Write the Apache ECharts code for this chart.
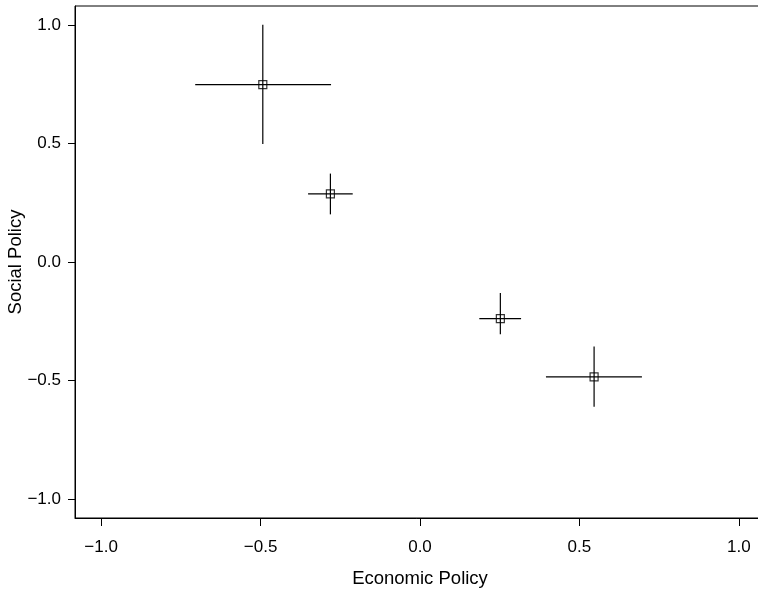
<!DOCTYPE html>
<html>
<head>
<meta charset="utf-8">
<script src="https://cdn.jsdelivr.net/npm/echarts@6/dist/echarts.min.js"></script>
<style>
  html, body { margin: 0; padding: 0; background: #fff; }
  #chart { width: 758px; height: 591px; }
</style>
</head>
<body>
<div id="chart"></div>
<script>
// point estimates with their ranges
let econ    = [-0.493, -0.281, 0.252, 0.546];
let econLo  = [-0.705, -0.351, 0.186, 0.395];
let econHi  = [-0.279, -0.211, 0.317, 0.696];
let social   = [0.748, 0.287, -0.239, -0.485];
let socialLo = [0.498, 0.201, -0.305, -0.611];
let socialHi = [1.001, 0.373, -0.131, -0.356];
let ticks = [-1.0, -0.5, 0.0, 0.5, 1.0];

let fmt = (v) => {
    let s = Math.abs(v).toFixed(1);
    return v < -1e-9 ? "\u2212" + s : s;
};

let barData = econ.map((x, i) => [x, social[i], econLo[i], econHi[i], socialLo[i], socialHi[i]]);
let pointData = econ.map((x, i) => [x, social[i]]);

let chart = echarts.init(document.getElementById('chart'));
let font = 'Liberation Sans, Arial, Helvetica, sans-serif';

let option = {
    animation: false,
    backgroundColor: '#fff',
    grid: {
        left: 75, top: 6, right: -7, bottom: 73,
        outerBoundsMode: 'none',
        containLabel: false,
        show: true, borderColor: '#000', borderWidth: 1, backgroundColor: 'transparent'
    },
    xAxis: {
        type: 'value',
        min: -1.082, max: 1.082,
        name: 'Economic Policy',
        nameLocation: 'middle',
        nameGap: 51,
        nameMoveOverlap: false,
        nameTextStyle: { fontFamily: font, fontSize: 18.5, color: '#000' },
        axisLine: { show: true, onZero: false, lineStyle: { color: '#000', width: 1 } },
        axisTick: { show: true, customValues: ticks, length: 8, lineStyle: { color: '#000' } },
        axisLabel: { customValues: ticks, formatter: fmt, margin: 21, fontFamily: font, fontSize: 17, color: '#000' },
        splitLine: { show: false }
    },
    yAxis: {
        type: 'value',
        min: -1.08, max: 1.08,
        name: 'Social Policy',
        nameLocation: 'middle',
        nameGap: 50,
        nameMoveOverlap: false,
        nameTextStyle: { fontFamily: font, fontSize: 18.5, color: '#000' },
        axisLine: { show: true, onZero: false, lineStyle: { color: '#000', width: 1 } },
        axisTick: { show: true, customValues: ticks, length: 7, lineStyle: { color: '#000' } },
        axisLabel: { customValues: ticks, formatter: fmt, margin: 14, fontFamily: font, fontSize: 17, color: '#000' },
        splitLine: { show: false }
    },
    series: [
        {
            type: 'custom',
            data: barData,
            z: 2,
            renderItem: (params, api) => {
                let y = api.value(1), x = api.value(0);
                let l = api.coord([api.value(2), y]);
                let r = api.coord([api.value(3), y]);
                let b = api.coord([x, api.value(4)]);
                let t = api.coord([x, api.value(5)]);
                let st = { stroke: '#000', lineWidth: 1.2 };
                return {
                    type: 'group',
                    children: [
                        { type: 'line', shape: { x1: l[0], y1: l[1], x2: r[0], y2: r[1] }, style: st },
                        { type: 'line', shape: { x1: b[0], y1: b[1], x2: t[0], y2: t[1] }, style: st }
                    ]
                };
            }
        },
        {
            type: 'scatter',
            data: pointData,
            z: 3,
            symbol: 'rect',
            symbolSize: 8,
            itemStyle: { color: 'transparent', borderColor: '#000', borderWidth: 1.2 }
        }
    ]
};
chart.setOption(option);
</script>
</body>
</html>
